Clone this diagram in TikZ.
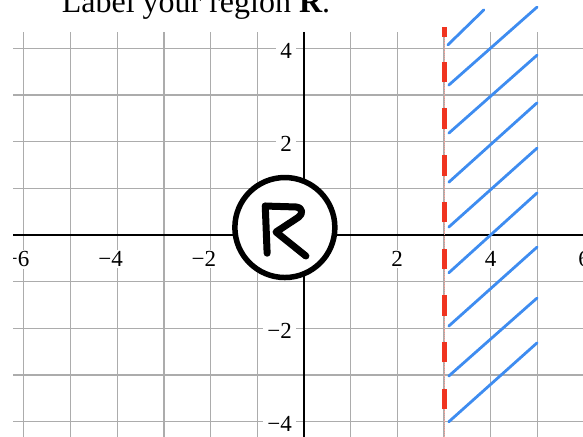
\documentclass[tikz,border=0pt]{standalone}
\usepackage{fontspec}
\setmainfont{Liberation Serif}
\definecolor{gridgray}{RGB}{172,172,172}
\definecolor{hatchblue}{RGB}{62,140,240}
\definecolor{dashred}{RGB}{240,52,32}
\begin{document}
\begin{tikzpicture}[x=46.7pt,y=46.7pt,
  gridline/.style={gridgray, line width=1.3pt},
  axisline/.style={black, line width=2.2pt},
  ticklab/.style={font=\fontsize{23}{23}\selectfont, fill=white, inner sep=1.5pt},
  hatch/.style={hatchblue, line width=2.8pt, line cap=round},
  reddash/.style={dashred, line width=5pt},
  redthin/.style={dashred!45, line width=0.8pt, densely dotted},
  pen/.style={black, line width=7pt, line cap=round, line join=round}]
\useasboundingbox (-6.51,-4.325) rectangle (5.974,5.032);
\begin{scope}
\clip (-6.23,-4.5) rectangle (6.3,5.2);
% grid
\foreach \x in {-6,...,6} \draw[gridline] (\x,-4.5) -- (\x,4.35);
\foreach \y in {-4,...,4} \draw[gridline] (-6.23,\y) -- (6.3,\y);
% y labels
\node[ticklab, anchor=base east, inner xsep=4pt] (y4) at (-0.17,3.786) {4};
\node[ticklab, anchor=base east, inner xsep=4pt] (y2) at (-0.17,1.786) {2};
\node[ticklab, anchor=base east, inner xsep=4pt] (ym2) at (-0.17,-2.206) {−2};
\node[ticklab, anchor=base east, inner xsep=4pt] (ym4) at (-0.17,-4.206) {−4};
% axes
\coordinate (xl) at (-6.23,0);
\coordinate (xr) at (6.3,0);
\coordinate (yt) at (0,4.35);
\coordinate (yb) at (0,-4.5);
\draw[axisline] (xl) -- (xr);
\draw[axisline] (yt) -- (yb);
% x labels
\node[ticklab, anchor=base east] (xm6) at (-6+0.155,-0.685) {−6};
\node[ticklab, anchor=base east] (xm4) at (-4+0.155,-0.685) {−4};
\node[ticklab, anchor=base east] (xm2) at (-2+0.155,-0.685) {−2};
\node[ticklab, anchor=base east] (x2) at (2+0.155,-0.685) {2};
\node[ticklab, anchor=base east] (x4) at (4+0.155,-0.685) {4};
\node[ticklab, anchor=base east] (x6) at (6+0.155,-0.685) {6};
\end{scope}
% red dashed boundary x = 3
\draw[redthin] (3,4.45) -- (3,-4.4);
\draw[reddash] (3,4.24) -- (3,4.45);
\foreach \k in {-4,...,3} \draw[reddash] (3,\k+0.27) -- (3,\k+0.71);
% blue hatching
\draw[hatch] (3.08,4.07) -- (3.85,4.82);
\draw[hatch] (3.10,3.21) -- (4.99,4.88);
\draw[hatch] (3.10,2.18) -- (4.99,3.85);
\draw[hatch] (3.10,1.13) -- (4.99,2.83);
\draw[hatch] (3.10,0.17) -- (4.99,1.86);
\draw[hatch] (3.10,-0.81) -- (4.99,0.90);
\draw[hatch] (3.10,-1.95) -- (4.99,-0.26);
\draw[hatch] (3.10,-3.02) -- (4.99,-1.35);
\draw[hatch] (3.10,-4.00) -- (4.99,-2.31);
% circled R
\node[circle, draw=black, fill=white, line width=5.5pt, minimum size=100pt, inner sep=0pt] (rcirc) at (-0.41,0.16) {};
\draw[pen] (-0.83,0.62) -- (-0.79,-0.39);
\draw[pen] (-0.83,0.62) -- (-0.17,0.60) .. controls (-0.02,0.58) and (-0.02,0.45) .. (-0.12,0.38) -- (-0.60,0.064) -- (0.04,-0.45);
% title
\node[anchor=base west, font=\fontsize{32}{32}\selectfont, inner sep=0pt] (title) at (-5.19,4.754) {Label your region \textbf{R}.};
\end{tikzpicture}
\end{document}
